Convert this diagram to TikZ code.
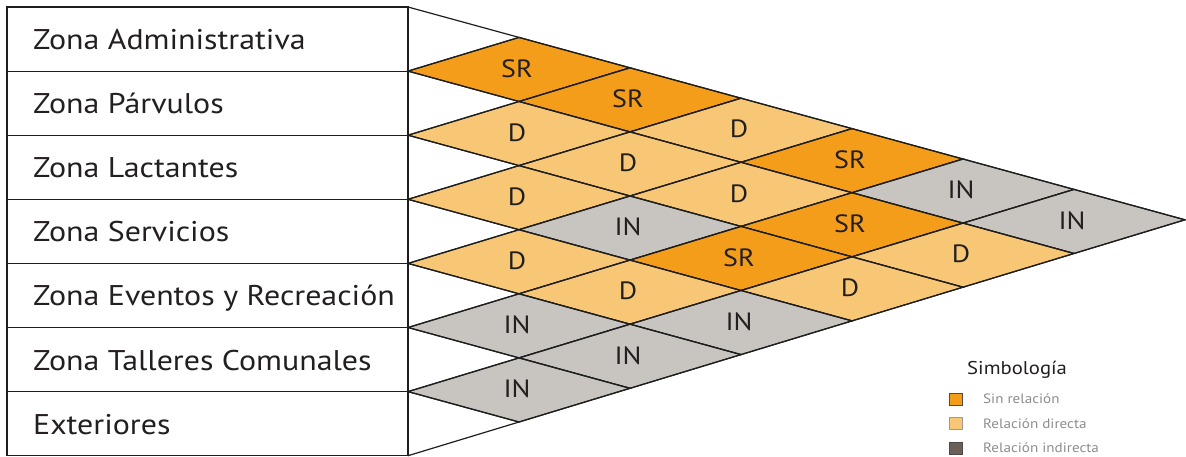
\documentclass[tikz,border=0pt]{standalone}
\usepackage{fontspec}
\setmainfont{PT Sans}[FakeStretch=1.12]
\usetikzlibrary{calc}
\definecolor{colSR}{HTML}{F39D1B}
\definecolor{colD}{HTML}{F7C776}
\definecolor{colIN}{HTML}{C8C4BF}
\definecolor{linecol}{HTML}{1E1E1E}
\definecolor{legtext}{HTML}{8C8C8C}
\definecolor{legIN}{HTML}{6B6058}
\definecolor{txt}{HTML}{231F20}
\begin{document}
\begin{tikzpicture}[x=1pt,y=-1pt,
  gridline/.style={draw=linecol, line width=1.2pt, line cap=round, line join=miter},
  cellshape/.style={draw=linecol, line width=1.2pt, line join=miter},
  celltext/.style={font=\fontsize{25}{30}\selectfont, text=txt, inner sep=0pt, anchor=center},
  zonetext/.style={font=\fontsize{28.5}{34}\selectfont, text=txt, anchor=base west, inner sep=0pt},
  legtitle/.style={font=\fontsize{18.5}{22}\selectfont, text=txt, anchor=base west, inner sep=0pt},
  legitem/.style={font=\fontsize{13.5}{16}\selectfont, text=legtext, anchor=base west, inner sep=0pt},
  legbox/.style={minimum width=13pt, minimum height=12pt, inner sep=0pt, line width=0.9pt}]
\useasboundingbox (0,0) rectangle (1186,456);
% lattice points
\foreach \a in {0,...,7}{
  \foreach \b in {\a,...,7}{
    \coordinate (P-\a-\b) at ({408+111*(\b-\a)},{7+64.1*\a+30.4*(\b-\a)});
  }
  \coordinate (L-\a) at (7,{7+64.1*\a});
}
% diamonds
\foreach \i/\j/\t in {0/1/SR,0/2/SR,0/3/D,0/4/SR,0/5/IN,0/6/IN,
  1/2/D,1/3/D,1/4/D,1/5/SR,1/6/D,
  2/3/D,2/4/IN,2/5/SR,2/6/D,
  3/4/D,3/5/D,3/6/IN,
  4/5/IN,4/6/IN,
  5/6/IN}{
  \pgfmathtruncatemacro{\ip}{\i+1}
  \pgfmathtruncatemacro{\jp}{\j+1}
  \filldraw[cellshape, fill=col\t] (P-\i-\j) -- (P-\i-\jp) -- (P-\ip-\jp) -- (P-\ip-\j) -- cycle;
  \node[celltext] (c-\i-\j) at ($(P-\i-\j)!0.5!(P-\ip-\jp)+(-2,-1)$) {\t};
}
% triangle lines
\foreach \k in {0,...,6}{ \draw[gridline] (P-\k-\k) -- (P-\k-7); }
\foreach \k in {1,...,7}{ \draw[gridline] (P-\k-\k) -- (P-0-\k); }
% left table
\draw[gridline] (L-0) -- (P-0-0) -- (P-7-7) -- (L-7) -- cycle;
\foreach \k in {1,...,6}{ \draw[gridline] (L-\k) -- (P-\k-\k); }
% zone labels
\node[zonetext] (z0) at (33,49.5) {Zona Administrativa};
\node[zonetext] (z1) at (33,113.6) {Zona Párvulos};
\node[zonetext] (z2) at (33,177.7) {Zona Lactantes};
\node[zonetext] (z3) at (33,241.8) {Zona Servicios};
\node[zonetext] (z4) at (33,305.9) {Zona Eventos y Recreación};
\node[zonetext] (z5) at (33,370.0) {Zona Talleres Comunales};
\node[zonetext] (z6) at (33,434.1) {Exteriores};
% legend
\node[legtitle] (lt) at (967,374) {Simbología};
\node[legbox, draw=linecol!80, fill=colSR] (b1) at (955.5,399) {};
\node[legbox, draw=linecol!45, fill=colD] (b2) at (955.5,423.5) {};
\node[legbox, draw=linecol!80, fill=legIN] (b3) at (955.5,448.5) {};
\node[legitem] (t1) at (983,403) {Sin relación};
\node[legitem] (t2) at (983,428) {Relación directa};
\node[legitem] (t3) at (983,452.5) {Relación indirecta};
\end{tikzpicture}
\end{document}
